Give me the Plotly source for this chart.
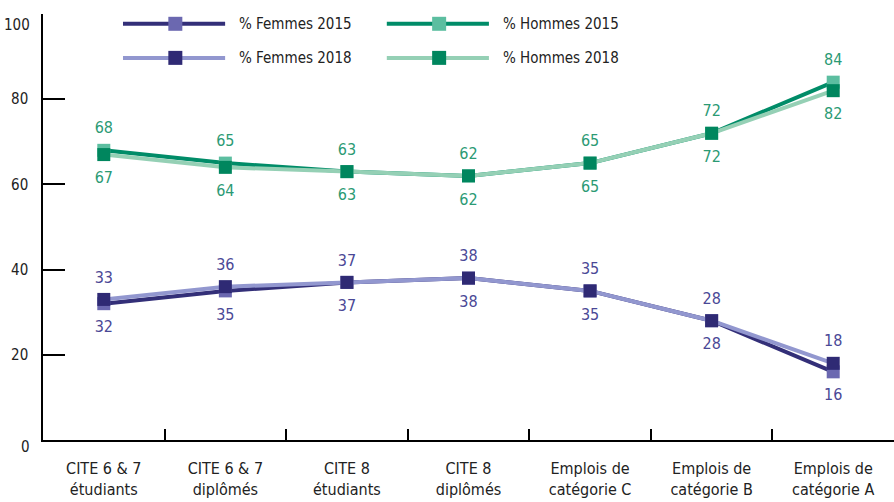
import plotly.graph_objects as go

categories = ["CITE 6 & 7<br>étudiants", "CITE 6 & 7<br>diplômés", "CITE 8<br>étudiants",
              "CITE 8<br>diplômés", "Emplois de<br>catégorie C", "Emplois de<br>catégorie B",
              "Emplois de<br>catégorie A"]
femmes_2015 = [32, 35, 37, 38, 35, 28, 16]
femmes_2018 = [33, 36, 37, 38, 35, 28, 18]
hommes_2015 = [68, 65, 63, 62, 65, 72, 84]
hommes_2018 = [67, 64, 63, 62, 65, 72, 82]
series_names = ["% Femmes 2015", "% Hommes 2015", "% Femmes 2018", "% Hommes 2018"]
y_ticks = [0, 20, 40, 60, 80, 100]
y_tick_labels = ["0", "20", "40", "60", "80", "100"]

FONT = "DejaVu Sans Condensed, Liberation Sans Narrow, sans-serif"
line_cols = {"F15": "#332f78", "F18": "#9297cf", "H15": "#008c68", "H18": "#95d0b5"}
mark_cols = {"F15": "#6b68b0", "F18": "#2f2a74", "H15": "#5cbea0", "H18": "#00865e"}
lab_f = "#4a4896"
lab_h = "#2b9a74"
ink = "#222222"

fig = go.Figure()
specs = [
    ("F15", femmes_2015, series_names[0], "bottom center", lab_f),
    ("H15", hommes_2015, series_names[1], "top center", lab_h),
    ("F18", femmes_2018, series_names[2], "top center", lab_f),
    ("H18", hommes_2018, series_names[3], "bottom center", lab_h),
]
for key, vals, name, tpos, tcol in specs:
    fig.add_trace(go.Scatter(
        x=categories, y=vals, name=name, mode="lines+markers",
        line=dict(color=line_cols[key], width=4),
        marker=dict(symbol="square", size=13, color=mark_cols[key]),
        cliponaxis=False, showlegend=False,
    ))
# value labels (transparent marker only sets the label's distance from the point)
for key, vals, name, tpos, tcol in specs:
    fig.add_trace(go.Scatter(
        x=categories, y=vals, name=name, mode="markers+text",
        marker=dict(symbol="square", size=19 if tpos.startswith("top") else 25, opacity=0),
        text=[str(v) for v in vals], textposition=tpos,
        textfont=dict(family=FONT, size=16, color=tcol),
        cliponaxis=False, showlegend=False, hoverinfo="skip",
    ))

# manual legend (2 x 2)
legend_pos = [("F15", series_names[0], 0.094, 0.977), ("H15", series_names[1], 0.404, 0.977),
              ("F18", series_names[2], 0.094, 0.897), ("H18", series_names[3], 0.404, 0.897)]
for key, name, lx, ly in legend_pos:
    fig.add_shape(type="line", xref="paper", yref="paper", x0=lx, x1=lx + 0.120, y0=ly, y1=ly,
                  line=dict(color=line_cols[key], width=4))
    fig.add_shape(type="rect", xref="paper", yref="paper", xsizemode="pixel", ysizemode="pixel",
                  xanchor=lx + 0.0615, yanchor=ly, x0=-7, x1=7, y0=-7, y1=7,
                  fillcolor=mark_cols[key], line=dict(width=0))
    fig.add_annotation(xref="paper", yref="paper", x=lx + 0.134, y=ly, text=name, showarrow=False,
                       xanchor="left", yanchor="middle",
                       font=dict(family=FONT, size=15, color=ink))

# edge tick labels (0 and 100) sit slightly below their ticks in the original
fig.add_annotation(xref="paper", yref="paper", x=0, y=0, text=y_tick_labels[0], showarrow=False,
                   xanchor="right", yanchor="middle", xshift=-11, yshift=-7,
                   font=dict(family=FONT, size=15, color=ink))
fig.add_annotation(xref="paper", yref="paper", x=0, y=1, text=y_tick_labels[-1], showarrow=False,
                   xanchor="right", yanchor="top", xshift=-11, yshift=0,
                   font=dict(family=FONT, size=15, color=ink))

fig.update_layout(
    width=894, height=502,
    margin=dict(l=43, r=0, t=14, b=62, autoexpand=False),
    plot_bgcolor="white", paper_bgcolor="white",
    font=dict(family=FONT, size=15, color=ink),
    showlegend=False,
)
fig.update_xaxes(
    type="category", range=[-0.5, 6.5], tickson="boundaries", ticks="inside", ticklen=11,
    tickcolor="black", tickwidth=1.5, showline=True, linecolor="black", linewidth=1.5,
    showgrid=False, zeroline=False, ticklabelstandoff=13,
    tickfont=dict(family=FONT, size=16, color=ink),
)
fig.update_yaxes(
    range=[0, 100], tickvals=y_ticks, ticktext=[""] + y_tick_labels[1:-1] + [""],
    ticks="inside", ticklen=22, tickcolor="black",
    tickwidth=1.5, showline=True, linecolor="black", linewidth=1.5, showgrid=False,
    zeroline=False, ticklabelstandoff=10,
    tickfont=dict(family=FONT, size=15, color=ink),
)

fig.write_html(
    "out.html",
    config={"displayModeBar": False},
    post_script="document.body.style.margin='0';document.body.style.overflow='hidden';",
)
